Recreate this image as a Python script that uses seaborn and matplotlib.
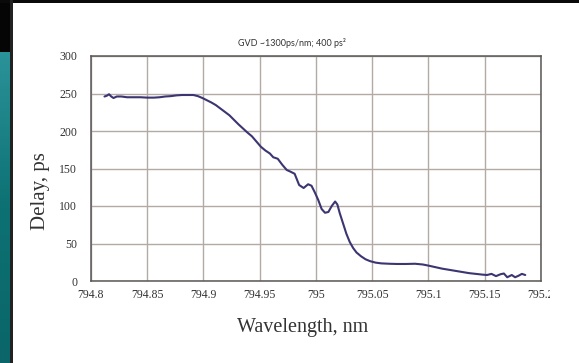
import numpy as np
import pandas as pd
import matplotlib
matplotlib.use("Agg")
import matplotlib.pyplot as plt
import seaborn as sns
from matplotlib.patches import Rectangle
from matplotlib.colors import LinearSegmentedColormap

# values
wavelength = [
    794.812, 794.814, 794.816, 794.818, 794.820, 794.823, 794.827, 794.832,
    794.838, 794.844, 794.850, 794.856, 794.861, 794.866, 794.871, 794.876,
    794.881, 794.886, 794.891, 794.895, 794.899, 794.903, 794.907, 794.911,
    794.915, 794.919, 794.923, 794.927, 794.931, 794.935, 794.939, 794.943,
    794.947, 794.951, 794.955, 794.959, 794.962, 794.966, 794.970, 794.974,
    794.977, 794.981, 794.985, 794.989, 794.993, 794.996, 794.999, 795.002,
    795.005, 795.008, 795.011, 795.014, 795.017, 795.019, 795.021, 795.024,
    795.027, 795.030, 795.033, 795.036, 795.040, 795.044, 795.048, 795.053,
    795.058, 795.065, 795.072, 795.080, 795.088, 795.095, 795.100, 795.106,
    795.112, 795.118, 795.124, 795.130, 795.136, 795.142, 795.148, 795.152,
    795.156, 795.160, 795.164, 795.167, 795.170, 795.174, 795.177, 795.180,
    795.183, 795.186,
]
delay = [
    246, 247, 249, 246, 244, 246, 246, 245,
    245, 245, 244.5, 244.5, 245, 246, 246.5, 247.5,
    248, 248, 248, 246.5, 244, 241, 238, 234.5,
    230, 225.5, 221, 215, 209, 203.5, 198, 193,
    186, 179, 174, 170, 165, 163, 155, 148,
    146, 143, 128, 124, 129, 127, 118, 108,
    96, 91, 92, 100, 106, 102, 91, 77,
    63, 52, 44, 38, 33, 29, 26.5, 24.5,
    23.5, 23, 22.7, 22.7, 23, 22, 20.5, 18.5,
    16.5, 15, 13.5, 12, 10.5, 9.5, 8.5, 8,
    9.5, 6.5, 9, 10, 5, 8, 5, 7,
    9.5, 8,
]
x_ticks = [794.8, 794.85, 794.9, 794.95, 795.0, 795.05, 795.1, 795.15, 795.2]
x_tick_labels = ["794.8", "794.85", "794.9", "794.95", "795", "795.05", "795.1", "795.15", "795.2"]
y_ticks = [0, 50, 100, 150, 200, 250, 300]

df = pd.DataFrame({"Wavelength": wavelength, "Delay": delay})

sns.set_style("white")
plt.rcParams["font.family"] = ["Liberation Serif", "DejaVu Serif"]

W, H = 579, 363
fig = plt.figure(figsize=(W / 100, H / 100), dpi=100)
fig.patch.set_facecolor("white")

# slide decorations: black top band, teal side bar
fig.patches.append(Rectangle((0, 0), 12 / W, 1, transform=fig.transFigure,
                             facecolor="#050505", edgecolor="none", zorder=0))
fig.patches.append(Rectangle((0, 1 - 3 / H), 1, 3 / H, transform=fig.transFigure,
                             facecolor="#0a0a0a", edgecolor="none", zorder=0))
fig.patches.append(Rectangle((10 / W, 0), 2.5 / W, 1, transform=fig.transFigure,
                             facecolor="#222222", edgecolor="none", zorder=1))
side = fig.add_axes([0, 0, 10 / W, (H - 52) / H], zorder=3)
teal = LinearSegmentedColormap.from_list("teal", ["#0a6668", "#0d7173", "#2a9399"])
side.imshow(np.linspace(0, 1, 100)[:, None], aspect="auto", cmap=teal, origin="lower")
side.axis("off")

ax = fig.add_axes([91 / W, 1 - 281 / H, 450 / W, 225 / H])
sns.lineplot(data=df, x="Wavelength", y="Delay", ax=ax, color="#3b3571", linewidth=1.5)

ax.set_xlim(794.8, 795.2)
ax.set_ylim(0, 300)
ax.set_xticks(x_ticks)
ax.set_xticklabels(x_tick_labels)
ax.set_yticks(y_ticks)
ax.grid(True, color="#b3aaa5", linewidth=1)
ax.set_axisbelow(True)
for s in ax.spines.values():
    s.set_color("#5a5656")
    s.set_linewidth(1.1)
ax.tick_params(length=0, labelsize=8.5, labelcolor="#333333")
ax.tick_params(axis="x", pad=6)
ax.tick_params(axis="y", pad=10)

ax.set_xlabel("Wavelength, nm", fontsize=14.5, color="#333333")
ax.set_ylabel("Delay, ps", fontsize=15, color="#333333")
ax.xaxis.set_label_coords(0.47, -0.165)
ax.yaxis.set_label_coords(-0.09, 0.4)

fig.text(0.505, 1 - 43 / H, "GVD ~1300ps/nm; 400 ps²", family=["Lato", "DejaVu Sans"],
         fontsize=6.5, color="#333333", ha="center", va="center")

# the last tick label is cut off in the original picture
fig.patches.append(Rectangle((550 / W, 1 - 305 / H), 29 / W, 20 / H, transform=fig.transFigure,
                             facecolor="white", edgecolor="none", zorder=5))

fig.savefig("out.png", dpi=100)
